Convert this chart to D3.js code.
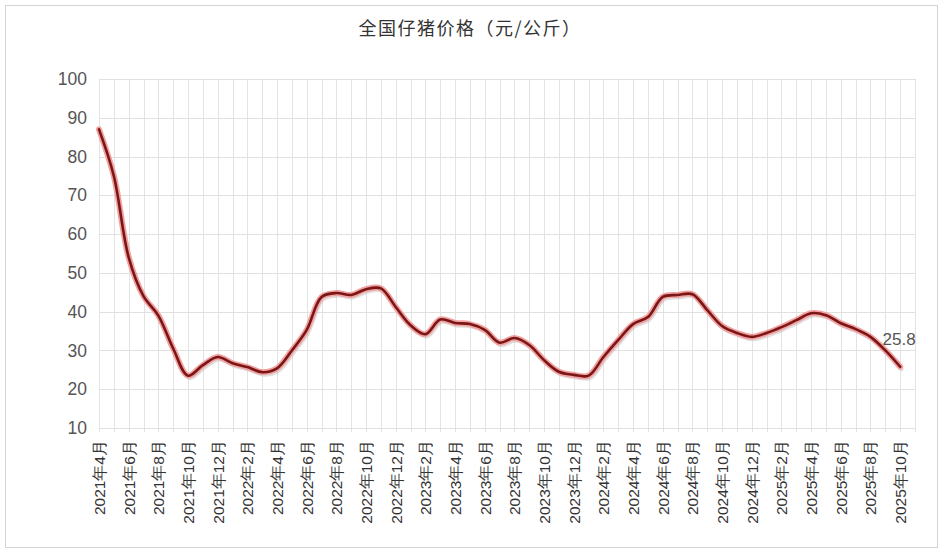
<!DOCTYPE html>
<html><head><meta charset="utf-8">
<script src="https://cdn.jsdelivr.net/npm/d3@7/dist/d3.min.js"></script>
<style>
html,body{margin:0;padding:0;background:#fff;}
svg{display:block;font-family:"Liberation Sans","Noto Sans CJK SC",sans-serif;}
</style></head><body>
<svg id="chart" width="944" height="553"></svg>
<script>
const title = "全国仔猪价格（元/公斤）";
const months = [
 "2021年4月","2021年5月","2021年6月","2021年7月","2021年8月","2021年9月","2021年10月","2021年11月","2021年12月",
 "2022年1月","2022年2月","2022年3月","2022年4月","2022年5月","2022年6月","2022年7月","2022年8月","2022年9月","2022年10月","2022年11月","2022年12月",
 "2023年1月","2023年2月","2023年3月","2023年4月","2023年5月","2023年6月","2023年7月","2023年8月","2023年9月","2023年10月","2023年11月","2023年12月",
 "2024年1月","2024年2月","2024年3月","2024年4月","2024年5月","2024年6月","2024年7月","2024年8月","2024年9月","2024年10月","2024年11月","2024年12月",
 "2025年1月","2025年2月","2025年3月","2025年4月","2025年5月","2025年6月","2025年7月","2025年8月","2025年9月","2025年10月"
];
const prices = [
 87, 75, 54, 44, 39, 30.5, 23.5, 26.2, 28.3,
 26.7, 25.7, 24.4, 25.4, 30, 35.3, 43.8, 44.8, 44.3, 45.8, 46, 41.2,
 36.5, 34.2, 38, 37.1, 36.8, 35.3, 32, 33.2, 31.4, 27.5, 24.5, 23.7,
 23.5, 28.3, 32.7, 36.8, 38.6, 43.8, 44.3, 44.5, 40.4, 36.3, 34.5, 33.5,
 34.5, 36, 37.8, 39.6, 39.1, 37, 35.5, 33.5, 30, 25.8
];
const yTicks = [10,20,30,40,50,60,70,80,90,100];
const lastLabel = "25.8";

(function(){
const svg = d3.select("#chart");
const mLeft = 99, mRight = 915, mTop = 79, mBottom = 428;

// outer frame
svg.append("rect").attr("x",5.5).attr("y",5.5).attr("width",932).attr("height",542)
  .attr("fill","#fff").attr("stroke","#d4d4d4").attr("stroke-width",1);

const x = d3.scaleLinear().domain([0, months.length]).range([mLeft, mRight]);
const y = d3.scaleLinear().domain([10, 100]).range([mBottom, mTop]);

// grid
const g = svg.append("g");
g.selectAll(".vg").data(d3.range(months.length + 1)).join("line")
  .attr("x1", d => Math.round(x(d)) + 0.5).attr("x2", d => Math.round(x(d)) + 0.5)
  .attr("y1", mTop).attr("y2", mBottom + 4)
  .attr("stroke", "#e3e3e3").attr("stroke-width", 1);
g.selectAll(".hg").data(yTicks).join("line")
  .attr("x1", mLeft).attr("x2", mRight)
  .attr("y1", d => Math.round(y(d)) + 0.5).attr("y2", d => Math.round(y(d)) + 0.5)
  .attr("stroke", "#e0e0e0").attr("stroke-width", 1);

// y axis
const yAxis = d3.axisLeft(y).tickValues(yTicks).tickSize(0).tickPadding(12);
const ya = svg.append("g").attr("transform", `translate(${mLeft},0)`).call(yAxis);
ya.select(".domain").remove();
ya.selectAll("text").attr("font-size", 17.5).attr("fill", "#555")
  .attr("font-family", "Liberation Sans, sans-serif");

// x axis
const xAxis = d3.axisBottom(x)
  .tickValues(d3.range(0, months.length, 2))
  .tickFormat(i => months[i]).tickSize(0).tickPadding(0);
const xa = svg.append("g").attr("transform", `translate(0,${mBottom})`).call(xAxis);
xa.select(".domain").remove();
xa.selectAll("text")
  .attr("transform", "rotate(-90)")
  .attr("text-anchor", "end")
  .attr("x", -12).attr("y", 0).attr("dy", "0.35em")
  .attr("font-size", 15.5).attr("fill", "#333");

// title
svg.append("text").attr("x", 470).attr("y", 35).attr("text-anchor", "middle")
  .attr("font-size", 18).attr("fill", "#333").attr("letter-spacing", 1.5)
  .attr("font-family", "Noto Sans CJK SC, sans-serif")
  .text(title);

// line
const line = d3.line().x((d, i) => x(i)).y(d => y(d)).curve(d3.curveCatmullRom.alpha(0.5));
svg.append("path").datum(prices).attr("d", line)
  .attr("fill", "none").attr("stroke", "#bbb").attr("stroke-width", 4).attr("opacity", 0.45)
  .attr("transform", "translate(1.5,2.5)").attr("stroke-linecap","round");
svg.append("path").datum(prices).attr("d", line)
  .attr("fill", "none").attr("stroke", "#f2a0a0").attr("stroke-width", 6)
  .attr("stroke-linejoin","round").attr("stroke-linecap","round");
svg.append("path").datum(prices).attr("d", line)
  .attr("fill", "none").attr("stroke", "#7a1616").attr("stroke-width", 2.6)
  .attr("stroke-linejoin","round").attr("stroke-linecap","round");

// last value label
const li = prices.length - 1;
svg.append("text").attr("x", x(li) - 1).attr("y", y(prices[li]) - 22)
  .attr("text-anchor", "middle").attr("font-size", 17).attr("fill", "#555")
  .text(lastLabel);
})();
</script>
</body></html>
